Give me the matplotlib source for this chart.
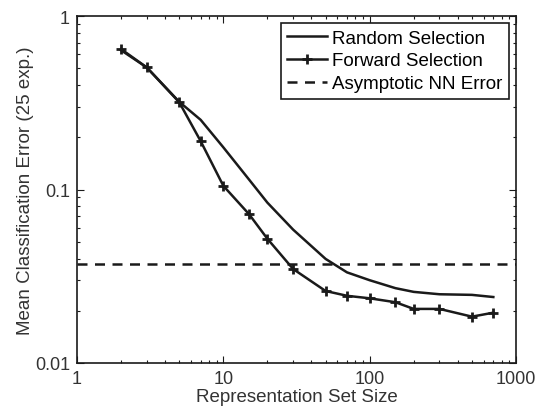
import matplotlib
matplotlib.use("Agg")
import matplotlib.pyplot as plt
from matplotlib.ticker import LogLocator, NullFormatter, FixedLocator, FixedFormatter

sizes = [2, 3, 5, 7, 10, 15, 20, 30, 50, 70, 100, 150, 200, 300, 500, 700]
random_sel = [0.635, 0.505, 0.32, 0.252, 0.175, 0.114, 0.084, 0.0587, 0.0398, 0.0333,
              0.030, 0.027, 0.0257, 0.0249, 0.0247, 0.024]
forward_sel = [0.645, 0.505, 0.318, 0.19, 0.105, 0.072, 0.052, 0.0348, 0.026, 0.0244,
               0.0236, 0.0224, 0.0205, 0.0205, 0.0185, 0.0195]
nn_error = 0.037

xticks = [1, 10, 100, 1000]
xticklabels = ["1", "10", "100", "1000"]
yticks = [0.01, 0.1, 1]
yticklabels = ["0.01", "0.1", "1"]

plt.rcParams['font.family'] = ['Liberation Sans', 'DejaVu Sans']
fig = plt.figure(figsize=(5.43, 4.10), dpi=100)
ax = fig.add_axes([77/543, 1-364/410, (516-77)/543, (364-17)/410])
c = '#1a1a1a'
ax.plot(sizes, random_sel, '-', color=c, lw=1.8, label='Random Selection')
ax.plot(sizes, forward_sel, '-', color=c, lw=1.8, marker='+', ms=7, mew=2,
        label='Forward Selection')
ax.axhline(nn_error, color=c, lw=1.8, ls=(0, (4, 3)), label='Asymptotic NN Error')
ax.set_xscale('log')
ax.set_yscale('log')
ax.set_xlim(1, 1000)
ax.set_ylim(0.01, 1)
ax.xaxis.set_major_locator(FixedLocator(xticks))
ax.xaxis.set_major_formatter(FixedFormatter(xticklabels))
ax.yaxis.set_major_locator(FixedLocator(yticks))
ax.yaxis.set_major_formatter(FixedFormatter(yticklabels))
ax.xaxis.set_minor_locator(LogLocator(base=10, subs=range(2, 10)))
ax.yaxis.set_minor_locator(LogLocator(base=10, subs=range(2, 10)))
ax.xaxis.set_minor_formatter(NullFormatter())
ax.yaxis.set_minor_formatter(NullFormatter())
ax.tick_params(which='both', direction='in', top=True, right=True, labelsize=13,
               colors=c, labelcolor='#333333')
ax.tick_params(which='major', length=5, width=0.8, pad=5)
ax.tick_params(which='minor', length=2.5, width=0.8)
for s in ax.spines.values():
    s.set_linewidth(1.2)
    s.set_color(c)
ax.set_xlabel('Representation Set Size', fontsize=13.5, labelpad=1, color='#333333')
ax.set_ylabel('Mean Classification Error (25 exp.)', fontsize=13.5, labelpad=1, color='#333333')
leg = ax.legend(loc='upper right', fontsize=13.5, frameon=True, fancybox=False,
                edgecolor=c, framealpha=1, handlelength=2.1, handletextpad=0.3,
                borderpad=0.35, labelspacing=0.3, borderaxespad=0.37)
leg.get_frame().set_linewidth(1.2)
fig.savefig('out.png', dpi=100)
